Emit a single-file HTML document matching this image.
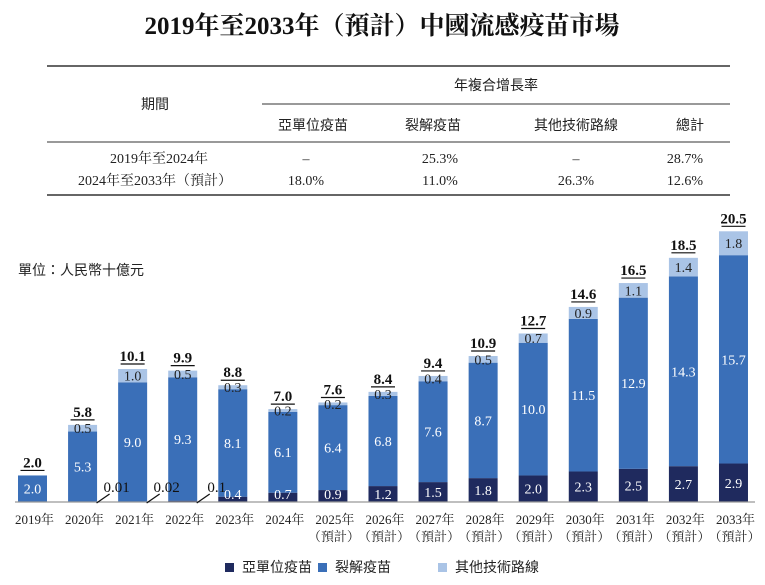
<!DOCTYPE html>
<html><head><meta charset="utf-8"><style>
body{margin:0;background:#fff;font-family:"Liberation Serif","Noto Serif CJK SC",serif;}
#c{position:relative;width:765px;height:585px;overflow:hidden}
</style></head><body>
<div id="c">
<svg id="s" width="765" height="585" xmlns="http://www.w3.org/2000/svg">
<text x="382" y="34" text-anchor="middle" font-size="25" font-weight="bold" fill="#111">2019年至2033年（預計）中國流感疫苗市場</text>
<g font-size="14" fill="#222">
<line x1="47" y1="66" x2="730" y2="66" stroke="#333" stroke-width="1.5"/>
<line x1="262" y1="104" x2="730" y2="104" stroke="#333" stroke-width="1"/>
<line x1="47" y1="142" x2="730" y2="142" stroke="#333" stroke-width="1"/>
<line x1="47" y1="195" x2="730" y2="195" stroke="#333" stroke-width="1.5"/>
<g font-family="'Liberation Sans','Noto Sans CJK TC',sans-serif" text-anchor="middle">
<text x="496" y="90">年複合增長率</text>
<text x="155" y="109">期間</text>
<text x="313" y="130">亞單位疫苗</text>
<text x="433" y="130">裂解疫苗</text>
<text x="576" y="130">其他技術路線</text>
<text x="690" y="130">總計</text>
</g>
<g text-anchor="middle">
<text x="159" y="163">2019年至2024年</text>
<text x="155" y="185">2024年至2033年（預計）</text>
<text x="306" y="163">–</text><text x="306" y="185">18.0%</text>
<text x="440" y="163">25.3%</text><text x="440" y="185">11.0%</text>
<text x="576" y="163">–</text><text x="576" y="185">26.3%</text>
<text x="685" y="163">28.7%</text><text x="685" y="185">12.6%</text>
</g></g>
<text x="18" y="275" font-size="14" fill="#222" font-family="'Liberation Sans','Noto Sans CJK TC',sans-serif">單位：人民幣十億元</text>
<g id="bars"></g>
<line x1="15" y1="502" x2="755" y2="502" stroke="#999" stroke-width="1.2"/>
<g id="labels"></g>
<g id="legend" font-size="14" fill="#222" font-family="'Liberation Sans','Noto Sans CJK TC',sans-serif">
<rect x="225" y="563" width="9" height="9" fill="#1f2a5e"/>
<text x="242" y="572">亞單位疫苗</text>
<rect x="318" y="563" width="9" height="9" fill="#3a6fb8"/>
<text x="335" y="572">裂解疫苗</text>
<rect x="438" y="563" width="9" height="9" fill="#aac4e6"/>
<text x="455" y="572">其他技術路線</text>
</g>
</svg>
</div>
<script>
const years=["2019年","2020年","2021年","2022年","2023年","2024年","2025年","2026年","2027年","2028年","2029年","2030年","2031年","2032年","2033年"];
const forecast=[0,0,0,0,0,0,1,1,1,1,1,1,1,1,1];
const subunit=[0,0.01,0.02,0.1,0.4,0.7,0.9,1.2,1.5,1.8,2.0,2.3,2.5,2.7,2.9];
const split=[2.0,5.3,9.0,9.3,8.1,6.1,6.4,6.8,7.6,8.7,10.0,11.5,12.9,14.3,15.7];
const other=[0,0.5,1.0,0.5,0.3,0.2,0.2,0.3,0.4,0.5,0.7,0.9,1.1,1.4,1.8];
const totals=["2.0","5.8","10.1","9.9","8.8","7.0","7.6","8.4","9.4","10.9","12.7","14.6","16.5","18.5","20.5"];
const NS="http://www.w3.org/2000/svg";
const base=502, k=13.27, x0=32.5, step=50.07, bw=29;
const yS=v=>base-v*k, xS=i=>x0+i*step;
const g=document.getElementById('bars');
const gl=document.getElementById('labels');
function mk(t,a,p){const e=document.createElementNS(NS,t);for(const n in a)e.setAttribute(n,a[n]);(p||g).appendChild(e);return e;}
function txt(x,y,s,fill,extra){const e=mk('text',Object.assign({x:x,y:y,'text-anchor':'middle','font-size':14,fill:fill},extra||{}),gl);e.textContent=s;return e;}
years.forEach((yr,i)=>{
  const cx=xS(i), l=cx-bw/2;
  const segs=[[subunit[i],'#1f2a5e','subunit'],[split[i],'#3a6fb8','split'],[other[i],'#aac4e6','other']];
  let acc=0;
  segs.forEach(([v,col,nm],j)=>{
    if(v<=0){return;}
    const r=mk('rect',{x:l,y:yS(acc+v),width:bw,height:Math.max(yS(acc)-yS(acc+v),0.3),fill:col});
    
    
    const mid=(yS(acc)+yS(acc+v))/2;
    if(nm==='subunit'){
      if(v<0.3){
        const ln=mk('line',{x1:cx+14,y1:503,x2:cx+27,y2:494,stroke:'#111','stroke-width':1.3},gl);
        
        
        const t=txt(cx+34,492,String(v),'#111',{'font-size':15});
        
        
      } else {
        const t=txt(cx,Math.min(mid,base-8)+5,v.toFixed(1),'#fff');
        
        
      }
    } else if(nm==='split'){
      const t=txt(cx,mid+5,v.toFixed(1),'#fff');
      
      
    } else {
      const t=txt(cx,mid+5,v.toFixed(1),'#222');
      
      
    }
    acc+=v;
  });
  const top=yS(acc);
  const tt=txt(cx,top-8,totals[i],'#111',{'font-weight':'bold','font-size':15});
  
  
  const ln=mk('line',{x1:cx-12,y1:top-5,x2:cx+12,y2:top-5,stroke:'#111','stroke-width':1.2},gl);
  
  
  const yl=txt(cx+2,524,yr,'#222',{'font-size':13});
  
  
  if(forecast[i]){
    const fl=txt(cx+1,541,'（預計）','#222',{'font-size':13});
    
    
  }
});
</script>
</body></html>
